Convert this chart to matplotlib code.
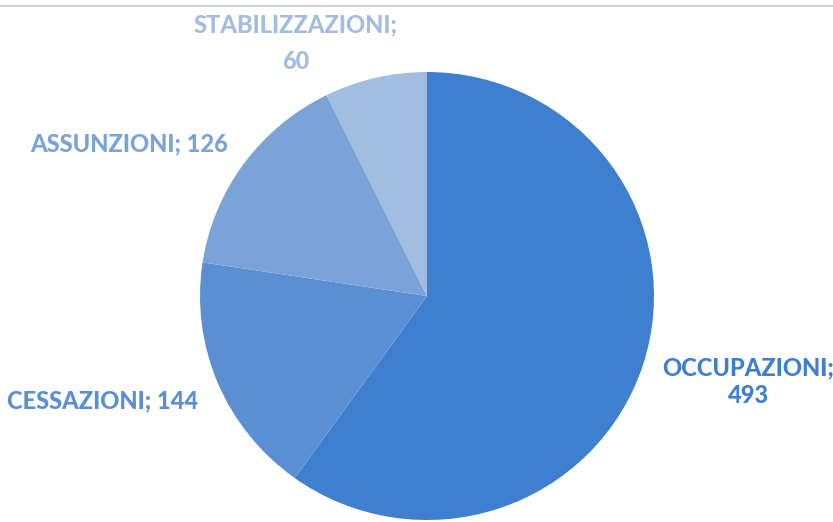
import matplotlib.pyplot as plt
from matplotlib.lines import Line2D

# data
categories = ["OCCUPAZIONI", "CESSAZIONI", "ASSUNZIONI", "STABILIZZAZIONI"]
values = [493, 144, 126, 60]
colors = ["#3f7fcf", "#5b8fd4", "#7aa3d8", "#a3bde0"]

W, H = 833, 522
fig = plt.figure(figsize=(W / 100, H / 100), dpi=100)

# pie box in pixels (left, top, right, bottom)
px_l, px_t, px_r, px_b = 200, 72, 654, 520
ax = fig.add_axes([px_l / W, (H - px_b) / H, (px_r - px_l) / W, (px_b - px_t) / H])
ax.pie(values, colors=colors, startangle=90, counterclock=False,
       radius=1, wedgeprops=dict(linewidth=0))
ax.set_aspect("auto")
ax.set_xlim(-1, 1)
ax.set_ylim(-1, 1)
ax.axis("off")

# labels placed as in the original (pixel centre, two lines?, line spacing)
label_pos = {
    "OCCUPAZIONI": (748, 382, True, 1.25),
    "CESSAZIONI": (103, 401, False, 1.0),
    "ASSUNZIONI": (129, 144, False, 1.0),
    "STABILIZZAZIONI": (296, 43, True, 1.7),
}
for cat, val, col in zip(categories, values, colors):
    x, y, two_lines, ls = label_pos[cat]
    sep = ";\n" if two_lines else "; "
    fig.text(x / W, 1 - y / H, f"{cat}{sep}{val}", color=col,
             ha="center", va="center", fontsize=17, fontweight="black",
             family=["Lato", "DejaVu Sans"], linespacing=ls)

# thin grey line at the top
fig.add_artist(Line2D([0, 1], [1 - 6 / H, 1 - 6 / H], color="#c8c8c8",
                      linewidth=1.2, transform=fig.transFigure))

plt.savefig("out.png", dpi=100)
